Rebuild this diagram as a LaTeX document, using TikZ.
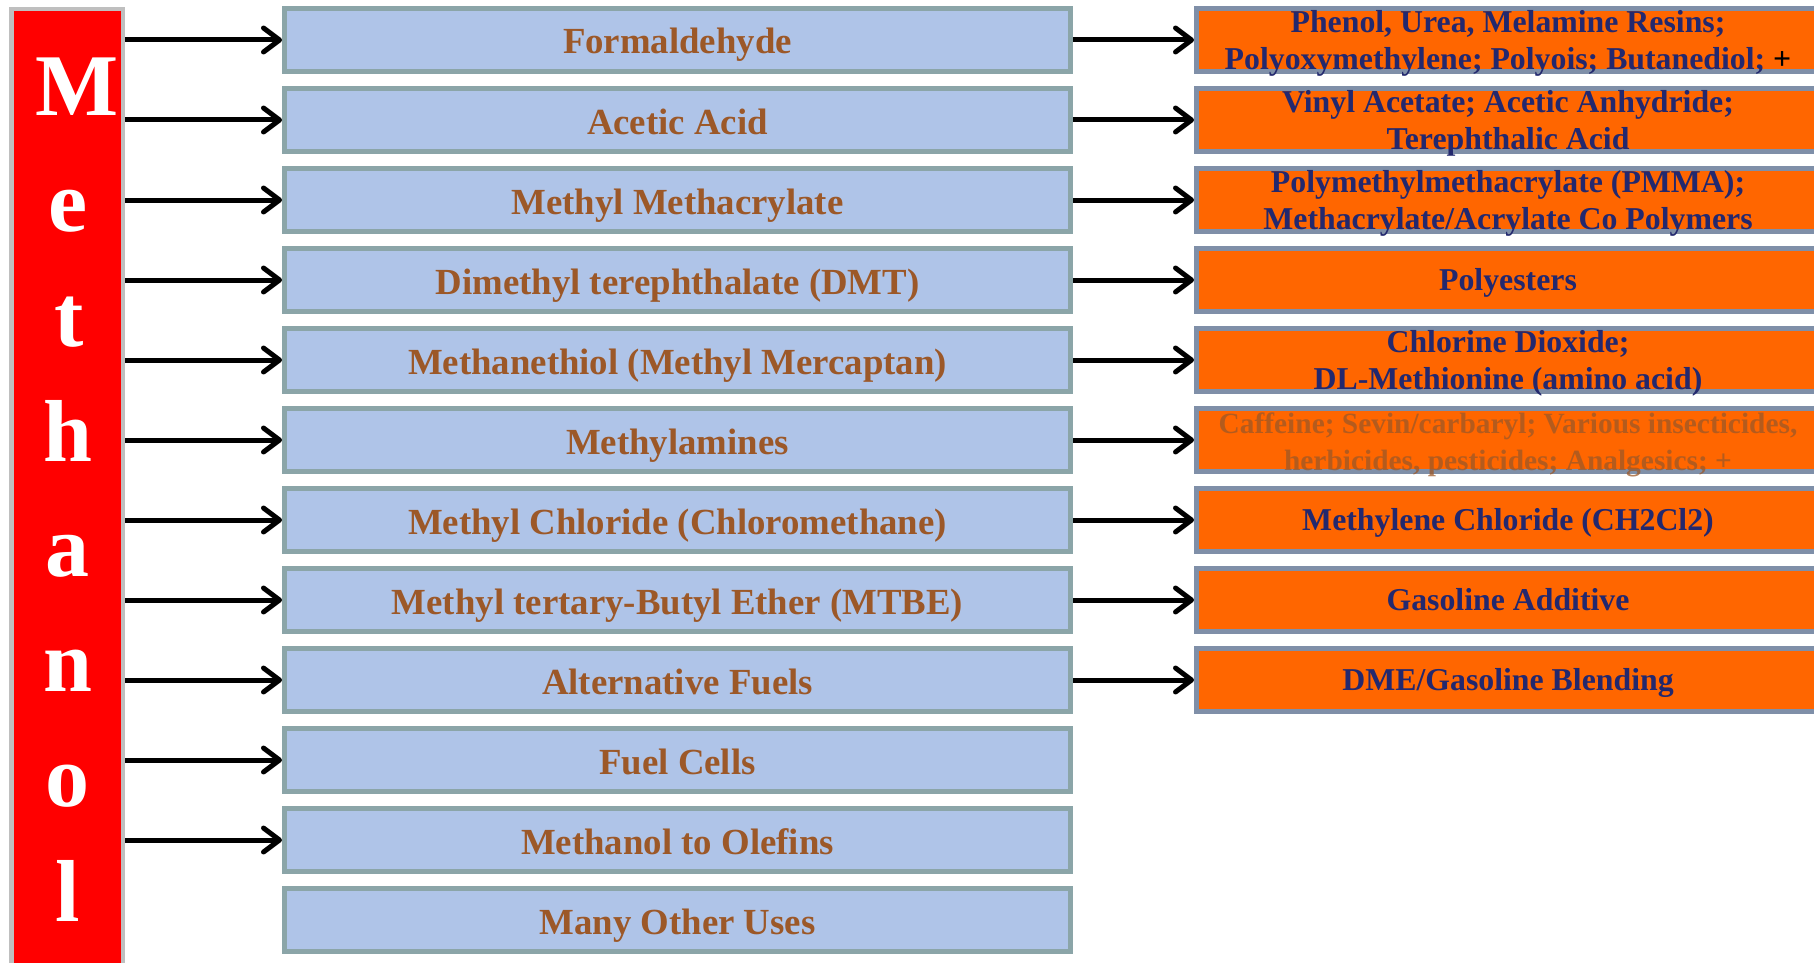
\documentclass[tikz,border=0pt]{standalone}
\usepackage{fontspec}
\setmainfont{Liberation Serif}
\usetikzlibrary{arrows.meta}
\definecolor{barred}{RGB}{255,0,0}
\definecolor{usefill}{RGB}{175,196,232}
\definecolor{useline}{RGB}{139,165,168}
\definecolor{usetext}{RGB}{156,88,40}
\definecolor{prodfill}{RGB}{255,102,0}
\definecolor{prodline}{RGB}{127,143,168}
\definecolor{prodtext}{RGB}{35,40,110}
\newcommand{\twolines}[2]{\smash{\raisebox{-0.8pt}{\begin{tabular}{@{}c@{}}#1\\#2\end{tabular}}}}
\begin{document}
\begin{tikzpicture}[x=0.5pt, y=-0.5pt, node distance=40pt, >={Straight Barb[length=8pt,width=12pt,round]},
        use node/.style={rectangle, draw=useline, fill=usefill, line width=2.5pt, minimum width=393pt, minimum height=31.75pt, inner sep=0pt, text height=15.5pt, text depth=1.5pt, text=usetext, font=\fontsize{18.4}{20}\selectfont\bfseries},
        prod node/.style={rectangle, draw=prodline, fill=prodfill, line width=2.5pt, minimum width=311.5pt, minimum height=31.75pt, inner sep=0pt, text height=12.5pt, text depth=2pt, text=prodtext, font=\fontsize{15.9}{18.5}\selectfont\bfseries}]
        \tikzstyle{every path}=[line width=2.5pt]
        \useasboundingbox (0,0) rectangle (1814,963);

          % the red bar with its letters
          \node[draw=black!25, fill=barred, line width=2.25pt, minimum width=55.75pt, minimum height=495.5pt] (bar) at (67.25,504.5) {};
          \foreach \ch/\xx/\yy [count=\i] in {M/77/116, e/68/231, t/69/346, h/68/461, a/68/576, n/68/691, o/68/806, l/68/921}
            \node[anchor=base, text=white, inner sep=0pt, font=\fontsize{44}{50}\selectfont\bfseries] (l\i) at (\xx,\yy) {\ch};

          % uses
          \node[use node] (b1) at (677.5,40) {Formaldehyde};
          \node[use node] (b2) [below of=b1] {Acetic Acid};
          \node[use node] (b3) [below of=b2] {Methyl Methacrylate};
          \node[use node] (b4) [below of=b3] {Dimethyl terephthalate (DMT)};
          \node[use node] (b5) [below of=b4] {Methanethiol (Methyl Mercaptan)};
          \node[use node] (b6) [below of=b5] {Methylamines};
          \node[use node] (b7) [below of=b6] {Methyl Chloride (Chloromethane)};
          \node[use node] (b8) [below of=b7] {Methyl tertary-Butyl Ether (MTBE)};
          \node[use node] (b9) [below of=b8] {Alternative Fuels};
          \node[use node] (b10) [below of=b9] {Fuel Cells};
          \node[use node] (b11) [below of=b10] {Methanol to Olefins};
          \node[use node] (b12) [below of=b11] {Many Other Uses};

          % products
          \begin{scope}[node distance=415.25pt]
          \node[prod node] (o1) [right of=b1] {\twolines{Phenol, Urea, Melamine Resins;}{Polyoxymethylene; Polyois; Butanediol; \textcolor{black}{+}}};
          \node[prod node] (o2) [right of=b2] {\twolines{Vinyl Acetate; Acetic Anhydride;}{Terephthalic Acid}};
          \node[prod node] (o3) [right of=b3] {\twolines{Polymethylmethacrylate (PMMA);}{Methacrylate/Acrylate Co Polymers}};
          \node[prod node] (o4) [right of=b4] {Polyesters};
          \node[prod node] (o5) [right of=b5] {\twolines{Chlorine Dioxide;}{DL-Methionine (amino acid)}};
          \node[prod node, text=usetext, text opacity=0.75, font=\fontsize{14.7}{18.5}\selectfont\bfseries] (o6) [right of=b6] {\twolines{Caffeine; Sevin/carbaryl; Various insecticides,}{herbicides, pesticides; Analgesics; +}};
          \node[prod node] (o7) [right of=b7] {Methylene Chloride (CH2Cl2)};
          \node[prod node] (o8) [right of=b8] {Gasoline Additive};
          \node[prod node] (o9) [right of=b9] {DME/Gasoline Blending};
          \end{scope}

          \foreach \i in {1,...,11}
            \draw[->] (bar.east |- b\i) -- (b\i.west);
          \foreach \i in {1,...,9}
            \draw[->] (b\i.east) -- (o\i.west);

\end{tikzpicture}
\end{document}
